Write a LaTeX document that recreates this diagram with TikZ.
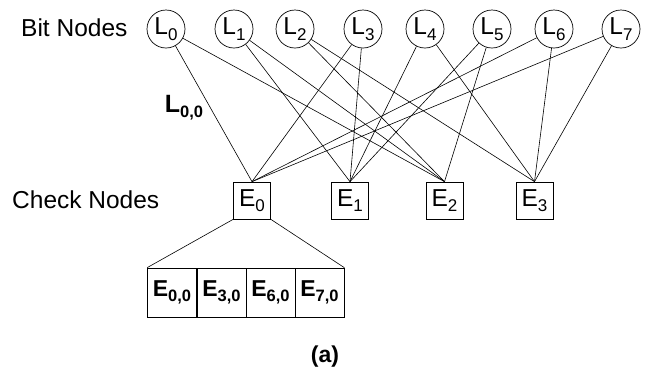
\documentclass[tikz,border=0pt]{standalone}
\usepackage{fontspec}
\setmainfont{Liberation Sans}
\newcommand\mysub[1]{\raisebox{-0.22em}{\fontsize{17}{17}\selectfont #1}}
\newcommand\mybsub[1]{\raisebox{-0.2em}{\fontsize{16.5}{17}\selectfont\bfseries #1}}
\begin{document}
\begin{tikzpicture}[x=1pt,y=-1pt,
  every node/.style={font=\fontsize{24.5}{27}\selectfont},
  bit/.style={draw,circle,minimum size=38pt,inner sep=0pt,line width=0.7pt},
  chk/.style={draw,rectangle,minimum size=37pt,inner sep=0pt,line width=0.7pt},
  cell/.style={draw,rectangle,minimum width=49pt,minimum height=49pt,inner sep=0pt,line width=0.7pt,font=\fontsize{23}{25}\selectfont\bfseries},
  edge/.style={line width=0.6pt},
  lbl/.style={inner sep=0pt}]
\useasboundingbox (0,0) rectangle (649,368);
% labels
\node[lbl,anchor=west] (bitlbl) at (21,28) {Bit Nodes};
\node[lbl,anchor=west] (chklbl) at (12,200) {Check Nodes};
% bit nodes
\node[bit] (L0) at (166,29) {L\mysub{0}};
\node[bit] (L1) at (234,29) {L\mysub{1}};
\node[bit] (L2) at (295,29) {L\mysub{2}};
\node[bit] (L3) at (363,29) {L\mysub{3}};
\node[bit] (L4) at (425,29) {L\mysub{4}};
\node[bit] (L5) at (492,29) {L\mysub{5}};
\node[bit] (L6) at (554,29) {L\mysub{6}};
\node[bit] (L7) at (621,29) {L\mysub{7}};
% check nodes
\node[chk] (E0) at (252,200.5) {E\mysub{0}};
\node[chk] (E1) at (350,200.5) {E\mysub{1}};
\node[chk] (E2) at (444.5,200.5) {E\mysub{2}};
\node[chk] (E3) at (534.5,200.5) {E\mysub{3}};
% edges
\foreach \l in {0,3,6,7} \draw[edge] (L\l) -- (E0.north);
\foreach \l in {1,3,4,5} \draw[edge] (L\l) -- (E1.north);
\foreach \l in {0,1,2,5} \draw[edge] (L\l) -- (E2.north);
\foreach \l in {2,4,6,7} \draw[edge] (L\l) -- (E3.north);
% edge label
\node[lbl,font=\fontsize{25}{27}\selectfont\bfseries] (l00) at (184,108) {L\mybsub{0,0}};
% expanded cells
\node[cell] (c0) at (172,292.5) {E\mybsub{0,0}};
\node[cell] (c1) at (221.5,292.5) {E\mybsub{3,0}};
\node[cell] (c2) at (270.5,292.5) {E\mybsub{6,0}};
\node[cell] (c3) at (319.5,292.5) {E\mybsub{7,0}};
\draw[edge] (E0.south west) -- (c0.north west);
\draw[edge] (E0.south east) -- (c3.north east);
% caption
\node[lbl,font=\fontsize{23}{25}\selectfont\bfseries] (cap) at (325,357) {(a)};
\end{tikzpicture}
\end{document}
